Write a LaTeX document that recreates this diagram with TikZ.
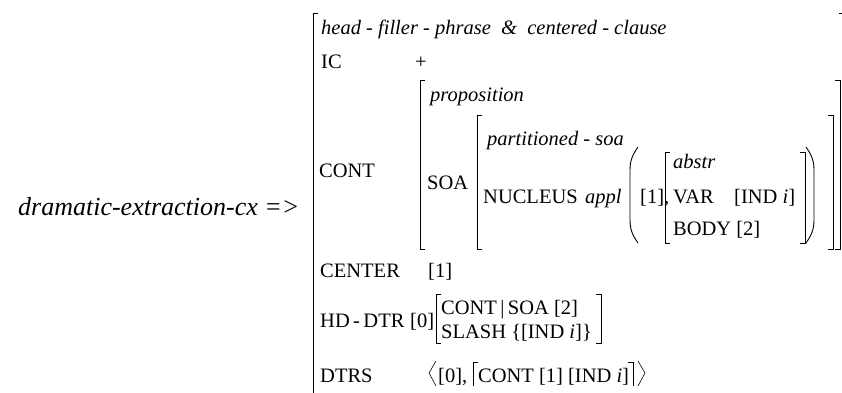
\documentclass[tikz,border=0pt]{standalone}
\usepackage{fontspec}
\setmainfont{Liberation Serif}
\begin{document}
\begin{tikzpicture}[x=1pt,y=-1pt,
  txt/.style={anchor=base west, inner sep=0pt, font=\fontsize{20.5}{24}\selectfont},
  itx/.style={txt, font=\fontsize{20.5}{24}\selectfont\itshape},
  brk/.style={line width=0.9pt},
  ang/.style={line width=0.6pt}]
\useasboundingbox (0,0) rectangle (842,392);
% left-hand side
\node[anchor=base west, inner sep=0pt, font=\fontsize{26}{30}\selectfont\itshape] (lhs) at (18,215) {dramatic-extraction-cx =>};
% outer bracket
\draw[brk] (318,13) -- (313,13) -- (313,395);
\draw[brk] (839,13) -- (843,13);
% top rows
\node[itx] (type) at (321,34) {head - filler - phrase \ \& \ centered - clause};
\node[txt] (ic) at (321,68) {IC};
\node[txt] (plus) at (415,68) {+};
% CONT
\node[txt] (cont) at (319,177) {CONT};
\draw[brk] (425,80) -- (420,80) -- (420,249) -- (425,249);
\draw[brk] (835,80) -- (840,80) -- (840,249) -- (835,249);
\node[itx] (prop) at (430,101) {proposition};
\node[txt] (soa) at (427,189) {SOA};
\draw[brk] (482,115) -- (477,115) -- (477,249) -- (482,249);
\draw[brk] (828,115) -- (833,115) -- (833,249) -- (828,249);
\node[itx] (psoa) at (487,145) {partitioned - soa};
\node[txt] (nuc) at (483,203) {NUCLEUS};
\node[itx] (appl) at (585,203) {appl};
\draw[brk] (638,147) to[out=235,in=90] (630,170) -- (630,220) to[out=-90,in=125] (638,243);
\node[txt] (one) at (640,203) {[1],};
\draw[brk] (670,152) -- (665,152) -- (665,243) -- (670,243);
\node[itx] (abstr) at (673,168) {abstr};
\node[txt] (var) at (673,203) {VAR};
\node[txt] (ind) at (734,203) {[IND \textit{i}]};
\node[txt] (body) at (673,235) {BODY [2]};
\draw[brk] (800,152) -- (805,152) -- (805,243) -- (800,243);
\draw[brk] (806,147) to[out=-55,in=90] (814,170) -- (814,220) to[out=-90,in=55] (806,243);
% CENTER
\node[txt] (center) at (320,277) {CENTER};
\node[txt] (c1) at (428,277) {[1]};
% HD-DTR
\node[txt] (hd) at (320,327) {HD\,-\,DTR};
\node[txt] (zero) at (410,327) {[0]};
\draw[brk] (441,294) -- (436,294) -- (436,343) -- (441,343);
\node[txt] (cs) at (441,314) {CONT\,|\,SOA [2]};
\node[txt] (sl) at (441,338) {SLASH \{[IND \textit{i}]\}};
\coordinate (hdtop) at (0,294);
\coordinate (hdbot) at (0,343);
\coordinate (hdr) at ([xshift=9pt]sl.east);
\draw[brk] ([xshift=-5pt]hdr |- hdtop) -- (hdr |- hdtop) -- (hdr |- hdbot) -- ([xshift=-5pt]hdr |- hdbot);
% DTRS
\node[txt] (dtrs) at (320,382) {DTRS};
\draw[ang] (436,361) -- (429,373) -- (436,386);
\node[txt] (z0) at (438,382) {[0],};
\draw[brk] (478,362) -- (473,362) -- (473,386);
\node[txt] (ci) at (478,382) {CONT [1] [IND \textit{i}]};
\draw[brk] (628,362) -- (633,362) -- (633,386);
\draw[ang] (638,361) -- (645,373) -- (638,386);
\end{tikzpicture}
\end{document}
